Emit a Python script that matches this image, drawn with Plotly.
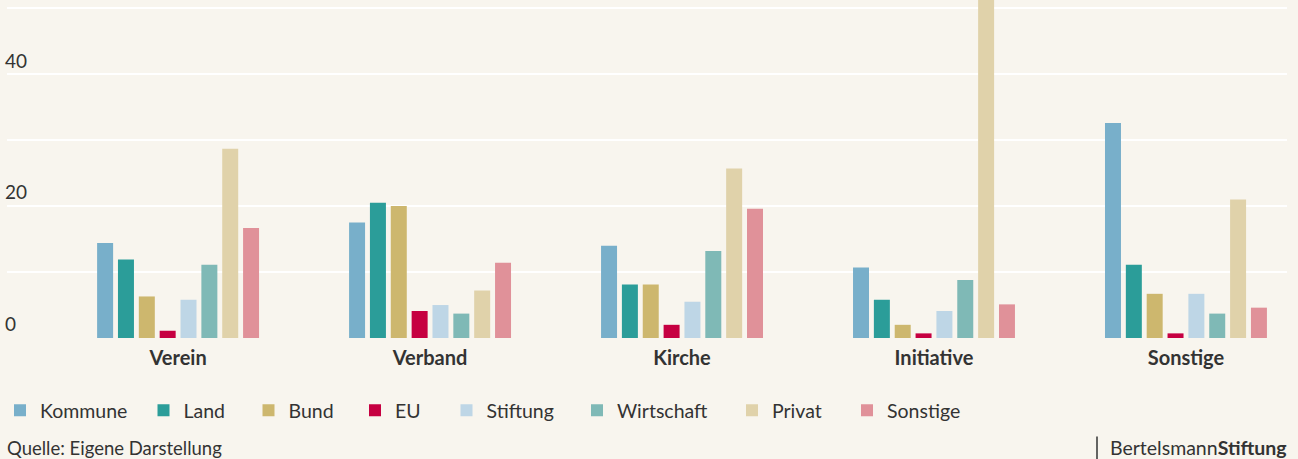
import plotly.graph_objects as go

categories = ["Verein", "Verband", "Kirche", "Initiative", "Sonstige"]
series_names = ["Kommune", "Land", "Bund", "EU", "Stiftung", "Wirtschaft", "Privat", "Sonstige"]

kommune = [14.4, 17.5, 14.0, 10.7, 32.6]
land = [11.9, 20.5, 8.1, 5.8, 11.1]
bund = [6.3, 20.0, 8.1, 2.0, 6.7]
eu = [1.1, 4.1, 2.0, 0.7, 0.7]
stiftung = [5.8, 5.0, 5.5, 4.1, 6.7]
wirtschaft = [11.1, 3.7, 13.2, 8.8, 3.7]
privat = [28.7, 7.2, 25.7, 60.0, 21.0]
sonstige = [16.7, 11.4, 19.6, 5.1, 4.6]

values = [kommune, land, bund, eu, stiftung, wirtschaft, privat, sonstige]
colors = ["#78afca", "#2b9d99", "#cdb76e", "#c60041", "#bed6e6", "#7fb9b6", "#e0d2aa", "#e09199"]

y_ticks = [0, 20, 40]

BG = "#f8f5ee"
TXT = "#333333"
FONT = "Lato, 'Open Sans', sans-serif"

W, H = 1298, 459
ml, mr, mt = 7, 11, 0
plot_bottom = 338.3
mb = H - plot_bottom
plot_h = plot_bottom - mt
plot_w = W - ml - mr


def py(ypx):
    return (plot_bottom - ypx) / plot_h


def px(xpx):
    return (xpx - ml) / plot_w


# legend entry centres (pixels) of the colour squares in the reference layout
legend_centres = [15.5, 163.5, 268.5, 375, 466.5, 597, 752, 867]

fig = go.Figure()
legend_layouts = {}
for i, (name, vals, col) in enumerate(zip(series_names, values, colors)):
    key = "legend" if i == 0 else f"legend{i + 1}"
    fig.add_trace(go.Bar(x=categories, y=vals, name=name, legend=key,
                         marker=dict(color=col, line=dict(width=0))))
    left = max(0.0, legend_centres[i] - 20)
    legend_layouts[key] = dict(orientation="h", x=px(left), xanchor="left", y=py(411), yanchor="middle",
                               font=dict(size=19.5, color=TXT, family=FONT), bgcolor="rgba(0,0,0,0)",
                               borderwidth=0)

fig.update_layout(
    width=W, height=H,
    margin=dict(l=ml, r=mr, t=mt, b=mb, pad=0),
    paper_bgcolor=BG, plot_bgcolor=BG,
    font=dict(family=FONT, color=TXT),
    barmode="group", bargap=0.338, bargroupgap=0.233,
    showlegend=True,
    xaxis=dict(range=[-0.679, 4.401], showgrid=False, zeroline=False, showline=False,
               ticks="", ticklabelstandoff=6,
               tickfont=dict(size=20, color=TXT, family=FONT, weight="bold"),
               fixedrange=True),
    yaxis=dict(range=[0, 51.26], tickvals=y_ticks, showgrid=True, gridcolor="#ffffff", gridwidth=1.5,
               zeroline=False, showline=False, ticks="", ticklabelposition="inside top",
               ticklabelstandoff=-5,
               tickfont=dict(size=19, color=TXT, family=FONT),
               minor=dict(dtick=10, showgrid=True, gridcolor="#ffffff", gridwidth=1.5, ticks=""),
               fixedrange=True),
    **legend_layouts,
)

fig.add_annotation(text="Quelle: Eigene Darstellung", xref="paper", yref="paper",
                   x=px(5), y=py(448), xanchor="left", yanchor="middle", showarrow=False,
                   font=dict(size=18.5, color=TXT, family=FONT))
fig.add_annotation(text="Bertelsmann<b>Stiftung</b>", xref="paper", yref="paper",
                   x=px(1289), y=py(448), xanchor="right", yanchor="middle", showarrow=False,
                   font=dict(size=19.5, color=TXT, family=FONT))
fig.add_shape(type="line", xref="paper", yref="paper", x0=px(1097), x1=px(1097), y0=py(437), y1=py(462),
              line=dict(color=TXT, width=1.5))

fig.write_html(
    "out.html",
    config={"displayModeBar": False},
    post_script="document.body.style.margin='0';document.documentElement.style.overflow='hidden';"
                "document.body.style.overflow='hidden';",
)
